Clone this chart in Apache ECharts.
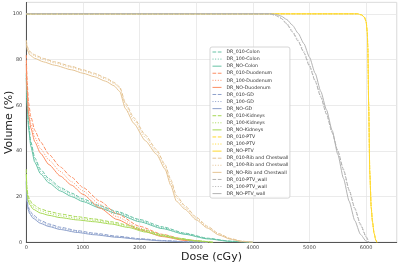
<!DOCTYPE html>
<html>
<head>
<meta charset="utf-8">
<script src="https://cdn.jsdelivr.net/npm/echarts@6/dist/echarts.min.js"></script>
<style>
  html, body { margin: 0; padding: 0; background: #fff; }
  #chart { width: 400px; height: 264px; }
</style>
</head>
<body>
<div id="chart"></div>
<script>
// DVH curves (dose in cGy, volume in %)
const colonDose = [0, 15, 40, 80, 150, 250, 400, 600, 800, 1000, 1300, 1600, 2000, 2400, 2800, 3200, 3600, 4000]
const colon010  = [74, 62, 52, 44, 37, 32, 27.8, 24, 21.5, 19, 16, 13.5, 10, 6.8, 4, 1.8, 0.5, 0]
const colon100  = [73, 61, 51, 43, 36, 31, 27, 23.3, 20.8, 18.4, 15.5, 13, 9.5, 6.4, 3.7, 1.6, 0.45, 0]
const colonNO   = [72, 60, 50, 42, 35, 30, 26, 22.5, 20, 17.8, 15, 12.5, 9, 6, 3.5, 1.5, 0.4, 0]

const duoDose = [0, 15, 40, 80, 150, 250, 400, 600, 800, 1000, 1300, 1600, 2000, 2400, 2800, 3200]
const duo010  = [82, 70, 61, 55, 49, 44, 38.5, 33, 28.5, 24, 18, 12.5, 7, 3.5, 1.2, 0]
const duo100  = [80, 68, 58, 52, 46, 41, 36, 31, 26.5, 22.5, 16.5, 11.2, 6.2, 3, 1, 0]
const duoNO   = [78, 66, 56, 50, 44, 39, 34, 29, 25, 21, 15, 10, 5.5, 2.5, 0.8, 0]

const gdDose = [0, 10, 30, 60, 120, 250, 400, 600, 900, 1200, 1600, 2000, 2400, 2800, 3200]
const gd010  = [27, 19.5, 16, 14, 12, 9.6, 8, 6.6, 5.1, 4, 2.7, 1.6, 0.8, 0.3, 0]
const gd100  = [26.5, 18.8, 15.2, 13.2, 11.2, 9, 7.4, 6.1, 4.7, 3.6, 2.4, 1.4, 0.7, 0.25, 0]
const gdNO   = [26, 18, 14.5, 12.5, 10.5, 8.3, 6.9, 5.6, 4.3, 3.3, 2.2, 1.3, 0.6, 0.2, 0]

const kidDose = [0, 10, 30, 60, 120, 250, 400, 600, 900, 1200, 1500, 1800, 2100, 2400, 2700, 3000, 3300]
const kid010  = [32, 24, 20.5, 18.5, 16.5, 14.6, 13.5, 12.4, 11.2, 10.2, 9, 7.5, 5.3, 3.3, 1.8, 0.7, 0]
const kid100  = [31, 23, 19.5, 17.5, 15.5, 13.8, 12.7, 11.6, 10.5, 9.6, 8.5, 7, 4.9, 3, 1.6, 0.65, 0]
const kidNO   = [30, 22, 18.5, 16.5, 14.5, 12.8, 11.8, 10.8, 9.8, 9, 8, 6.5, 4.5, 2.8, 1.5, 0.6, 0]

const ptvDose = [0, 5850, 5920, 5970, 6000, 6020, 6030, 6045, 6065, 6090, 6112, 6140, 6170, 6190]
const ptv010  = [100, 100, 99.6, 98.6, 96.8, 92.5, 86, 61, 31, 15.5, 9.3, 4.2, 1.1, 0]
const ptv100  = [100, 100, 99.5, 98.5, 96.6, 92.2, 85.5, 60.5, 30.5, 15.2, 9.1, 4.1, 1, 0]
const ptvNO   = [100, 100, 99.5, 98.5, 96.5, 92, 85, 60, 30, 15, 9, 4, 1, 0]

const ribDose = [0, 20, 60, 150, 300, 500, 800, 1000, 1200, 1400, 1550, 1650, 1750, 1900, 2100, 2300, 2450, 2550, 2650, 2800, 3000, 3200, 3400, 3600, 3800, 4000]
const rib010  = [88.5, 85.5, 83.5, 82, 80.5, 79, 77, 75.5, 74, 72, 70, 68, 61, 54.5, 47, 40.5, 34, 27.5, 20.5, 16, 11, 7, 3.8, 1.7, 0.5, 0]
const rib100  = [88, 85, 83, 81.5, 80, 78.5, 76.5, 75, 73.5, 71.5, 69.5, 67.5, 60, 53.5, 46, 39.5, 33, 26.5, 19.5, 15.3, 10.5, 6.6, 3.5, 1.5, 0.45, 0]
const ribNO   = [87, 84, 82, 80.5, 79, 77.5, 75.5, 74, 72.5, 70.5, 68.5, 66, 58.5, 52, 44.5, 38.5, 32, 25, 18, 14.5, 9.8, 6.2, 3.2, 1.4, 0.4, 0]

const wallDose = [0, 4300, 4400, 4500, 4600, 4700, 4800, 4900, 5000, 5100, 5200, 5300, 5400, 5500, 5600, 5700, 5800, 5900, 6000, 6050]
const wall010  = [100, 100, 99.3, 98, 95.5, 92, 88, 83, 77, 70.5, 63.5, 56, 48, 40, 32, 23, 15, 8, 2.5, 0]
const wall100  = [100, 100, 99.4, 98.2, 95.8, 92.4, 88.5, 83.6, 77.6, 71, 64, 56.5, 48.2, 40, 31.5, 22.5, 14.5, 7.5, 2.2, 0]
const wallNO   = [100, 100, 99.8, 99, 97.5, 95, 91.5, 87, 81, 74, 66, 58, 49, 38.5, 28, 18, 9.5, 3.5, 0.5, 0]

const structures = [
  { name: 'Colon', color: '#66c2a5', dose: colonDose, v010: colon010, v100: colon100, vNO: colonNO },
  { name: 'Duodenum', color: '#fc8d62', dose: duoDose, v010: duo010, v100: duo100, vNO: duoNO },
  { name: 'GD', color: '#8da0cb', dose: gdDose, v010: gd010, v100: gd100, vNO: gdNO },
  { name: 'Kidneys', color: '#a6d854', dose: kidDose, v010: kid010, v100: kid100, vNO: kidNO },
  { name: 'PTV', color: '#ffd92f', dose: ptvDose, v010: ptv010, v100: ptv100, vNO: ptvNO },
  { name: 'Rib and Chestwall', color: '#e5c494', dose: ribDose, v010: rib010, v100: rib100, vNO: ribNO },
  { name: 'PTV_wall', color: '#b3b3b3', dose: wallDose, v010: wall010, v100: wall100, vNO: wallNO },
]

const variants = [
  { tag: 'DR_010', key: 'v010', dash: [3.7, 1.6] },
  { tag: 'DR_100', key: 'v100', dash: [1, 1.65] },
  { tag: 'DR_NO', key: 'vNO', dash: 'solid' },
]

const series = []
structures.forEach(s => {
  variants.forEach(v => {
    series.push({
      name: `${v.tag}-${s.name}`,
      type: 'line',
      symbol: 'none',
      smooth: 0.2,
      smoothMonotone: 'x',
      data: s.dose.map((d, i) => [d, s[v.key][i]]),
      lineStyle: { color: s.color, width: 1, type: v.dash },
      itemStyle: { color: s.color },
    })
  })
})

const chart = echarts.init(document.getElementById('chart'), null, { renderer: 'canvas' })
chart.setOption({
  animation: false,
  grid: {
    left: 26.3, right: 3.3, top: 2.4, bottom: 21.7,
    outerBoundsMode: 'none', containLabel: false,
    show: true, borderColor: '#bbb', borderWidth: 0.8,
  },
  legend: {
    orient: 'vertical',
    left: 210,
    top: 47,
    padding: [2.5, 1.5, 2, 2],
    itemWidth: 9,
    itemHeight: 5,
    itemGap: 2.08,
    itemStyle: { opacity: 0 },
    lineStyle: { width: 1 },
    backgroundColor: 'rgba(255,255,255,0.85)',
    borderColor: '#ccc',
    borderWidth: 0.8,
    borderRadius: 2,
    textStyle: { fontSize: 4.7, lineHeight: 5, color: '#333', fontFamily: 'DejaVu Sans' },
    data: series.map(s => s.name),
  },
  xAxis: {
    type: 'value',
    min: 0,
    max: 6540,
    interval: 1000,
    name: 'Dose (cGy)',
    nameLocation: 'middle',
    nameGap: 9,
    nameMoveOverlap: false,
    nameTextStyle: { fontSize: 11, color: '#222', fontFamily: 'DejaVu Sans' },
    axisLine: { lineStyle: { color: '#555', width: 1 } },
    axisTick: { show: false },
    axisLabel: { fontSize: 5, margin: 3, color: '#444', fontFamily: 'DejaVu Sans', showMaxLabel: false, formatter: v => String(v) },
    splitLine: { lineStyle: { color: '#e6e6e6', width: 0.8 } },
  },
  yAxis: {
    type: 'value',
    min: 0,
    max: 105,
    interval: 20,
    name: 'Volume (%)',
    nameLocation: 'middle',
    nameGap: 12,
    nameMoveOverlap: false,
    nameTextStyle: { fontSize: 11, color: '#222', fontFamily: 'DejaVu Sans' },
    axisLine: { show: true, lineStyle: { color: '#555', width: 1 } },
    axisTick: { show: false },
    axisLabel: { fontSize: 5, margin: 4, color: '#444', fontFamily: 'DejaVu Sans', showMaxLabel: false },
    splitLine: { lineStyle: { color: '#e6e6e6', width: 0.8 } },
  },
  series,
})
</script>
</body>
</html>
